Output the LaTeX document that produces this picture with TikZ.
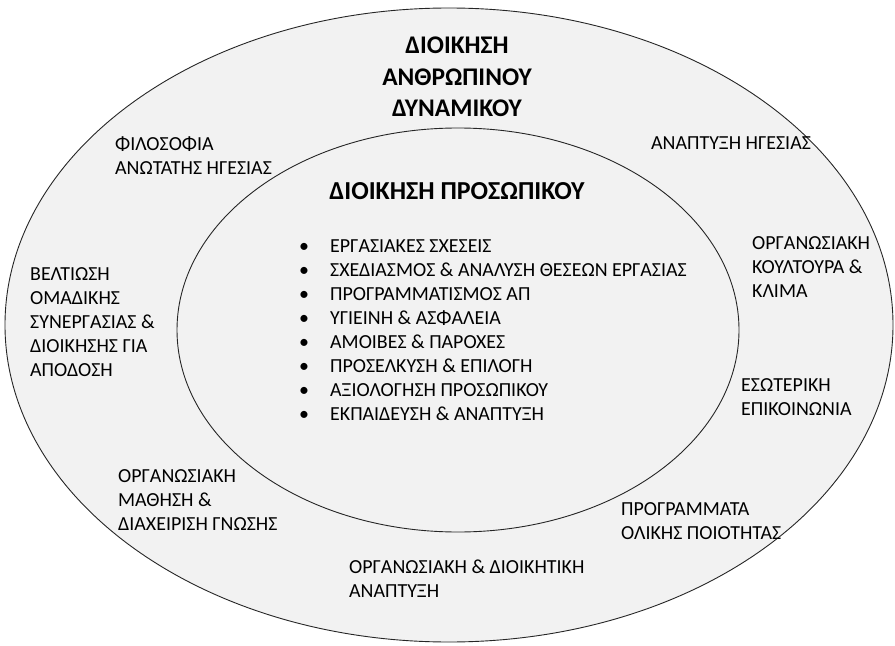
\documentclass[tikz,border=0pt]{standalone}
\usepackage{fontspec}
\setmainfont{Carlito}
\definecolor{ringfill}{HTML}{F2F2F2}
\definecolor{ringline}{HTML}{262626}
\newcommand{\bul}{\makebox[31bp][l]{\textbullet}}
\begin{document}
\begin{tikzpicture}[x=1bp,y=-1bp,
  ring/.style={fill=ringfill,draw=ringline,line width=0.9bp},
  label/.style={inner sep=0pt,anchor=north west,align=left,
    font=\fontsize{20}{24}\selectfont},
  title/.style={inner sep=0pt,anchor=north,align=center,
    font=\bfseries\fontsize{25.5}{31.5}\selectfont}]
\useasboundingbox (0,0) rectangle (895,646);
% the two nested fields
\draw[ring] (449,325) ellipse [x radius=444bp, y radius=317bp];
\draw[ring] (458,330) ellipse [x radius=281bp, y radius=202bp];
% headings
\node[title] (hrm) at (457,37) {ΔΙΟΙΚΗΣΗ\\ΑΝΘΡΩΠΙΝΟΥ\\ΔΥΝΑΜΙΚΟΥ};
\node[title,font=\bfseries\fontsize{26}{31}\selectfont] (pm) at (457,182) {ΔΙΟΙΚΗΣΗ ΠΡΟΣΩΠΙΚΟΥ};
% personnel management functions
\node[label] (list) at (299,240) {\bul ΕΡΓΑΣΙΑΚΕΣ ΣΧΕΣΕΙΣ\\
\bul ΣΧΕΔΙΑΣΜΟΣ \& ΑΝΑΛΥΣΗ ΘΕΣΕΩΝ ΕΡΓΑΣΙΑΣ\\
\bul ΠΡΟΓΡΑΜΜΑΤΙΣΜΟΣ ΑΠ\\
\bul ΥΓΙΕΙΝΗ \& ΑΣΦΑΛΕΙΑ\\
\bul ΑΜΟΙΒΕΣ \& ΠΑΡΟΧΕΣ\\
\bul ΠΡΟΣΕΛΚΥΣΗ \& ΕΠΙΛΟΓΗ\\
\bul ΑΞΙΟΛΟΓΗΣΗ ΠΡΟΣΩΠΙΚΟΥ\\
\bul ΕΚΠΑΙΔΕΥΣΗ \& ΑΝΑΠΤΥΞΗ};
% human resource management areas
\node[label] (phil) at (115,136.5) {ΦΙΛΟΣΟΦΙΑ\\ΑΝΩΤΑΤΗΣ ΗΓΕΣΙΑΣ};
\node[label] (lead) at (651,136.5) {ΑΝΑΠΤΥΞΗ ΗΓΕΣΙΑΣ};
\node[label] (cult) at (752,236.5) {ΟΡΓΑΝΩΣΙΑΚΗ\\ΚΟΥΛΤΟΥΡΑ \&\\ΚΛΙΜΑ};
\node[label] (team) at (30,267.5) {ΒΕΛΤΙΩΣΗ\\ΟΜΑΔΙΚΗΣ\\ΣΥΝΕΡΓΑΣΙΑΣ \&\\ΔΙΟΙΚΗΣΗΣ ΓΙΑ\\ΑΠΟΔΟΣΗ};
\node[label] (comm) at (741,378.5) {ΕΣΩΤΕΡΙΚΗ\\ΕΠΙΚΟΙΝΩΝΙΑ};
\node[label] (learn) at (118,469.5) {ΟΡΓΑΝΩΣΙΑΚΗ\\ΜΑΘΗΣΗ \&\\ΔΙΑΧΕΙΡΙΣΗ ΓΝΩΣΗΣ};
\node[label] (tqm) at (621,502.5) {ΠΡΟΓΡΑΜΜΑΤΑ\\ΟΛΙΚΗΣ ΠΟΙΟΤΗΤΑΣ};
\node[label] (od) at (349,559.5) {ΟΡΓΑΝΩΣΙΑΚΗ \& ΔΙΟΙΚΗΤΙΚΗ\\ΑΝΑΠΤΥΞΗ};
\end{tikzpicture}
\end{document}
